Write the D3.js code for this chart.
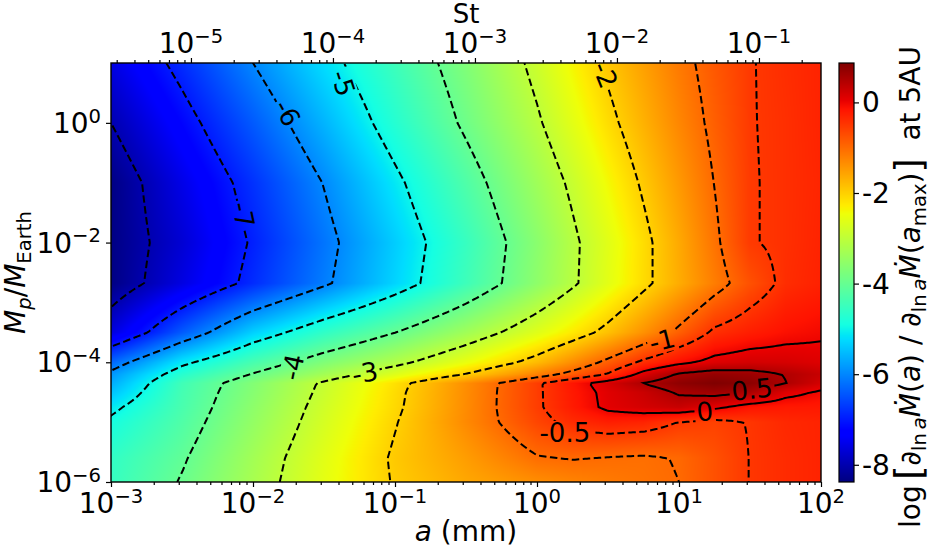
<!DOCTYPE html>
<html>
<head>
<meta charset="utf-8">
<script src="https://cdn.jsdelivr.net/npm/d3@7/dist/d3.min.js"></script>
<style>
html,body{margin:0;padding:0;background:#fff;}
svg text{font-family:"DejaVu Sans",sans-serif;fill:#000;}
</style>
</head>
<body>
<svg id="chart" width="932" height="549"></svg>
<script>
// ---------------- data ----------------
// grid nodes: log10 of grain size a (mm) and of planet mass Mp/MEarth
const logA = [-3, -2.5, -2, -1.5, -1, -0.5, 0, 0.25, 0.5, 0.75, 1, 1.25, 1.5, 1.75, 2];
const logM = [-6, -5.6, -5, -4.75, -4.5, -4.35, -4.2, -4, -3.5, -2.68, -2, -1, 0, 1];
// log[ d_lna Mdot(a) / d_lna Mdot(a_max) ], one row per logM node
const fluxGrid = [
  [-4.55, -3.96, -3.26, -2.57, -1.96, -1.6, -1.35, -1.25, -1.16, -1.08, -1.0, -0.75, -0.49, -0.38, -0.3],   // -6
  [-4.6, -4.06, -3.32, -2.61, -1.93, -1.5, -1.03, -0.98, -1.02, -1.05, -0.98, -0.75, -0.49, -0.38, -0.3],    // -5.6
  [-4.9, -4.25, -3.49, -2.75, -2.03, -1.31, -0.64, -0.38, -0.25, -0.3, -0.51, -0.6, -0.48, -0.35, -0.3],     // -5
  [-5.13, -4.33, -3.56, -2.81, -2.09, -1.33, -0.56, -0.22, 0.08, 0.2, 0.3, 0.08, -0.15, -0.2, -0.2],         // -4.75
  [-5.47, -4.38, -3.64, -2.88, -2.12, -1.34, -0.56, -0.2, 0.1, 0.28, 0.55, 0.64, 0.53, 0.12, -0.05],        // -4.5
  [-5.67, -4.43, -3.68, -2.92, -2.17, -1.36, -0.56, -0.17, 0.18, 0.51, 0.75, 0.87, 0.78, 0.51, 0.2],        // -4.35
  [-5.87, -4.71, -3.97, -3.32, -2.66, -1.98, -1.23, -0.85, -0.47, 0.14, 0.55, 0.7, 0.65, 0.48, 0.3],        // -4.2
  [-6.3, -5.13, -4.35, -3.71, -3.16, -2.52, -1.8, -1.35, -0.88, -0.41, -0.1, 0.12, 0.2, 0.18, 0.12],        // -4
  [-7.64, -6.41, -5.34, -4.61, -4.01, -3.35, -2.64, -2.26, -1.85, -1.39, -0.9, -0.42, -0.25, -0.12, -0.05], // -3.5
  [-8.35, -7.6, -6.84, -6.09, -5.3, -4.46, -3.55, -3.08, -2.6, -2.12, -1.65, -1.19, -0.75, -0.4, -0.28],    // -2.68
  [-8.35, -7.71, -6.94, -6.17, -5.37, -4.53, -3.6, -3.1, -2.62, -2.13, -1.62, -1.09, -0.53, -0.42, -0.3],   // -2
  [-8.35, -7.55, -6.78, -5.98, -5.12, -4.26, -3.36, -2.9, -2.41, -1.93, -1.46, -0.99, -0.53, -0.42, -0.32], // -1
  [-8.0, -7.21, -6.41, -5.59, -4.73, -3.9, -3.07, -2.6, -2.13, -1.7, -1.28, -0.89, -0.52, -0.42, -0.3],     // 0
  [-7.6, -6.83, -6.0, -5.21, -4.46, -3.7, -2.85, -2.37, -1.91, -1.53, -1.15, -0.82, -0.52, -0.4, -0.3]      // 1
];
const contourLevels = [-8, -7, -6, -5, -4, -3, -2, -1, -0.5, 0, 0.5];
const colorDomain = [-8.38, 0.87];
const aDomain = [1e-3, 1e2];
const mDomain = [1e-6, 1e1];
const stPerMm = 0.002735;           // Stokes number of a 1 mm grain
const aTicks = [1e-3, 1e-2, 1e-1, 1e0, 1e1, 1e2];
const mTicks = [1e-6, 1e-4, 1e-2, 1e0];
const stTicks = [1e-5, 1e-4, 1e-3, 1e-2, 1e-1];
const cbTicks = [0, -2, -4, -6, -8];
const labelText = ["-7", "-6", "-5", "-2", "-4", "-3", "-1", "-0.5", "0", "0.5"];
const labelA = [0.0085, 0.0174, 0.043, 3.01, 0.0191, 0.0615, 7.6, 1.57, 15.2, 32.7];
const labelM = [0.029, 1.46, 4.6, 6.3, 8.3e-5, 6.6e-5, 2.3e-4, 6.6e-6, 1.5e-5, 3.5e-5];
// jet colormap segment data
const jetR = [[0, 0], [0.35, 0], [0.66, 1], [0.89, 1], [1, 0.5]];
const jetG = [[0, 0], [0.125, 0], [0.375, 1], [0.64, 1], [0.91, 0], [1, 0]];
const jetB = [[0, 0.5], [0.11, 1], [0.34, 1], [0.65, 0], [1, 0]];

// ---------------- layout / style ----------------
const L = 111, R = 821, T = 63, B = 482;
const FS = 28;
const labelRot = [78, 61, 72, 68, -78, -10, -14, 0, -6, -6];

const svg = d3.select("#chart");
const x = d3.scaleLog().domain(aDomain).range([L, R]);
const y = d3.scaleLog().domain(mDomain).range([B, T]);
const st = d3.scaleLog().domain([aDomain[0] * stPerMm, aDomain[1] * stPerMm]).range([L, R]);
const cb = d3.scaleLinear().domain(colorDomain).range([B, T]);
const norm = d3.scaleLinear().domain(colorDomain).range([0, 1]).clamp(true);
const chan = s => d3.scaleLinear().domain(s.map(d => d[0])).range(s.map(d => d[1])).clamp(true);
const jr = chan(jetR), jg = chan(jetG), jb = chan(jetB);
function jet(v) { const t = norm(v); return [jr(t) * 255, jg(t) * 255, jb(t) * 255]; }

function fieldAt(u, v) {
  u = Math.max(logA[0], Math.min(logA[logA.length - 1], u));
  v = Math.max(logM[0], Math.min(logM[logM.length - 1], v));
  const i = Math.max(0, Math.min(logA.length - 2, d3.bisectRight(logA, u) - 1));
  const j = Math.max(0, Math.min(logM.length - 2, d3.bisectRight(logM, v) - 1));
  const tu = (u - logA[i]) / (logA[i + 1] - logA[i]);
  const tv = (v - logM[j]) / (logM[j + 1] - logM[j]);
  const f00 = fluxGrid[j][i], f10 = fluxGrid[j][i + 1], f01 = fluxGrid[j + 1][i], f11 = fluxGrid[j + 1][i + 1];
  return (1 - tu) * (1 - tv) * f00 + tu * (1 - tv) * f10 + (1 - tu) * tv * f01 + tu * tv * f11;
}

const defs = svg.append("defs");
defs.append("clipPath").attr("id", "plotclip").append("rect")
  .attr("x", L).attr("y", T).attr("width", R - L).attr("height", B - T);
const mask = defs.append("mask").attr("id", "lblmask").attr("maskUnits", "userSpaceOnUse")
  .attr("x", 0).attr("y", 0).attr("width", 932).attr("height", 549);
mask.append("rect").attr("x", 0).attr("y", 0).attr("width", 932).attr("height", 549).attr("fill", "#fff");

// heatmap
{
  const pw = R - L, ph = B - T;
  const cv = document.createElement("canvas"); cv.width = pw; cv.height = ph;
  const ctx = cv.getContext("2d"); const img = ctx.createImageData(pw, ph);
  for (let j = 0; j < ph; j++) {
    const v = Math.log10(y.invert(T + j + 0.5));
    for (let i = 0; i < pw; i++) {
      const u = Math.log10(x.invert(L + i + 0.5));
      const c = jet(fieldAt(u, v));
      const k = (j * pw + i) * 4;
      img.data[k] = c[0]; img.data[k + 1] = c[1]; img.data[k + 2] = c[2]; img.data[k + 3] = 255;
    }
  }
  ctx.putImageData(img, 0, 0);
  svg.append("image").attr("x", L).attr("y", T).attr("width", pw).attr("height", ph)
    .attr("preserveAspectRatio", "none").attr("href", cv.toDataURL());
}

// contours
{
  const s = 2, m = 6;
  const gx0 = L - m, gy0 = T - m;
  const nx = Math.ceil((R - L + 2 * m) / s) + 1, ny = Math.ceil((B - T + 2 * m) / s) + 1;
  const vals = new Float64Array(nx * ny);
  for (let j = 0; j < ny; j++) {
    const v = Math.log10(y.invert(gy0 + j * s));
    for (let i = 0; i < nx; i++) {
      vals[j * nx + i] = fieldAt(Math.log10(x.invert(gx0 + i * s)), v);
    }
  }
  const cs = d3.contours().size([nx, ny]).thresholds(contourLevels)(vals);
  const proj = d3.geoTransform({ point(px, py) { this.stream.point(gx0 + (px - 0.5) * s, gy0 + (py - 0.5) * s); } });
  const path = d3.geoPath(proj);
  svg.append("g").attr("clip-path", "url(#plotclip)").attr("mask", "url(#lblmask)")
    .selectAll("path").data(cs).join("path")
    .attr("d", path).attr("fill", "none").attr("stroke", "#000").attr("stroke-width", 2)
    .attr("stroke-dasharray", d => d.value < 0 ? "7.5,3.5" : null);
}

// contour labels
{
  const g = svg.append("g");
  labelText.forEach((t, k) => {
    const tr = `translate(${x(labelA[k])},${y(labelM[k])}) rotate(${labelRot[k]})`;
    const txt = g.append("text").attr("transform", tr).attr("text-anchor", "middle")
      .attr("dominant-baseline", "central").style("font-size", "26px").text(t);
    const bb = txt.node().getBBox();
    mask.append("rect").attr("transform", tr).attr("x", bb.x - 2).attr("y", bb.y + 3)
      .attr("width", bb.width + 4).attr("height", bb.height - 6).attr("fill", "#000");
  });
}

// frame
svg.append("rect").attr("x", L).attr("y", T).attr("width", R - L).attr("height", B - T)
  .attr("fill", "none").attr("stroke", "#000").attr("stroke-width", 1.4);

function rich(sel, parts, fs) {
  let cur = 0;
  parts.forEach(p => {
    const sh = p.sh || 0, sc = p.sc || 1;
    const ts = sel.append("tspan").text(p.t).style("font-size", (fs * sc) + "px").attr("dy", ((sh - cur) * fs) + "px");
    if (p.it) ts.style("font-style", "italic");
    cur = sh;
  });
}
const expo = v => { const e = Math.round(Math.log10(v)); return e < 0 ? "\u2212" + (-e) : String(e); };
function powLabel(g, px, py, v, anchor) {
  const t = g.append("text").attr("x", px).attr("y", py).attr("text-anchor", anchor);
  rich(t, [{ t: "10" }, { t: expo(v), sc: 0.7, sh: -0.36 }], FS);
}
function minorVals(dom) {
  const out = [];
  const e0 = Math.floor(Math.log10(dom[0])), e1 = Math.ceil(Math.log10(dom[1]));
  for (let e = e0; e <= e1; e++) for (let k = 2; k <= 9; k++) {
    const v = k * Math.pow(10, e);
    if (v > dom[0] && v < dom[1]) out.push(v);
  }
  return out;
}
function styleAxis(g) { g.select(".domain").remove(); g.selectAll("line").attr("stroke", "#000").attr("stroke-width", 1.2); }

// bottom axis
svg.append("g").attr("transform", `translate(0,${B})`).call(d3.axisBottom(x).tickValues(aTicks).tickSize(5).tickFormat("")).call(styleAxis);
svg.append("g").attr("transform", `translate(0,${B})`).call(d3.axisBottom(x).tickValues(minorVals(aDomain)).tickSize(3).tickFormat("")).call(styleAxis);
{ const g = svg.append("g"); aTicks.forEach(v => powLabel(g, x(v), 513, v, "middle")); }
{
  const t = svg.append("text").attr("x", (L + R) / 2).attr("y", 541).attr("text-anchor", "middle");
  rich(t, [{ t: "a", it: true }, { t: "\u00a0(mm)" }], FS);
}
// top axis (Stokes number)
svg.append("g").attr("transform", `translate(0,${T})`).call(d3.axisTop(st).tickValues(stTicks).tickSize(5).tickFormat("")).call(styleAxis);
svg.append("g").attr("transform", `translate(0,${T})`).call(d3.axisTop(st).tickValues(minorVals(st.domain())).tickSize(3).tickFormat("")).call(styleAxis);
{ const g = svg.append("g"); stTicks.forEach(v => powLabel(g, st(v), 53, v, "middle")); }
svg.append("text").attr("x", (L + R) / 2).attr("y", 23).attr("text-anchor", "middle").style("font-size", "26px").text("St");
// left axis
svg.append("g").attr("transform", `translate(${L},0)`).call(d3.axisLeft(y).tickValues(mTicks).tickSize(5).tickFormat("")).call(styleAxis);
{ const g = svg.append("g"); mTicks.forEach(v => powLabel(g, 101, y(v) + 10, v, "end")); }
{
  const t = svg.append("text").attr("transform", `translate(25,${(T + B) / 2}) rotate(-90)`).attr("text-anchor", "middle");
  rich(t, [{ t: "M", it: true }, { t: "p", it: true, sc: 0.7, sh: 0.22 }, { t: "/" }, { t: "M", it: true }, { t: "Earth", sc: 0.7, sh: 0.22 }], FS);
}

// colorbar
{
  const cx0 = 839, cw = 15, ch = B - T;
  const cv = document.createElement("canvas"); cv.width = 1; cv.height = ch;
  const ctx = cv.getContext("2d"); const img = ctx.createImageData(1, ch);
  for (let j = 0; j < ch; j++) {
    const c = jet(cb.invert(T + j + 0.5));
    img.data[j * 4] = c[0]; img.data[j * 4 + 1] = c[1]; img.data[j * 4 + 2] = c[2]; img.data[j * 4 + 3] = 255;
  }
  ctx.putImageData(img, 0, 0);
  svg.append("image").attr("x", cx0).attr("y", T).attr("width", cw).attr("height", ch)
    .attr("preserveAspectRatio", "none").attr("href", cv.toDataURL()).style("image-rendering", "auto");
  svg.append("rect").attr("x", cx0).attr("y", T).attr("width", cw).attr("height", ch)
    .attr("fill", "none").attr("stroke", "#000").attr("stroke-width", 1.2);
  svg.append("g").attr("transform", `translate(${cx0 + cw},0)`).call(d3.axisRight(cb).tickValues(cbTicks).tickSize(5).tickFormat("")).call(styleAxis);
  const g = svg.append("g");
  cbTicks.forEach(v => g.append("text").attr("x", 862).attr("y", cb(v) + 10).style("font-size", FS + "px").text(String(v)));
  const parts = [
    { t: "log\u2009" }, { t: "[", sc: 1.3, sh: 0.06 },
    { t: "\u2202" }, { t: "ln\u2009", sc: 0.7, sh: 0.2 }, { t: "a", sc: 0.7, sh: 0.2, it: true },
    { t: "\u1E40", it: true }, { t: "(" }, { t: "a", it: true }, { t: ")\u00a0/\u00a0\u2202" },
    { t: "ln\u2009", sc: 0.7, sh: 0.2 }, { t: "a", sc: 0.7, sh: 0.2, it: true },
    { t: "\u1E40", it: true }, { t: "(" }, { t: "a", it: true }, { t: "max", sc: 0.7, sh: 0.2 }, { t: ")" },
    { t: "]", sc: 1.3, sh: 0.06 }, { t: "\u00a0\u00a0at 5AU" }
  ];
  // measure unrotated, then place with explicit start so it spans the target extent
  const probe = svg.append("text").attr("x", 0).attr("y", -100);
  rich(probe, parts, FS);
  const w0 = probe.node().getBBox().width;
  probe.remove();
  const target = 484, cy = 287;
  const fs2 = FS * Math.min(1, target / w0);
  const w = w0 * fs2 / FS;
  const t = svg.append("text").attr("transform", `translate(920,${cy + w / 2}) rotate(-90)`).attr("x", 0).attr("y", 0);
  rich(t, parts, fs2);
}
</script>
</body>
</html>
